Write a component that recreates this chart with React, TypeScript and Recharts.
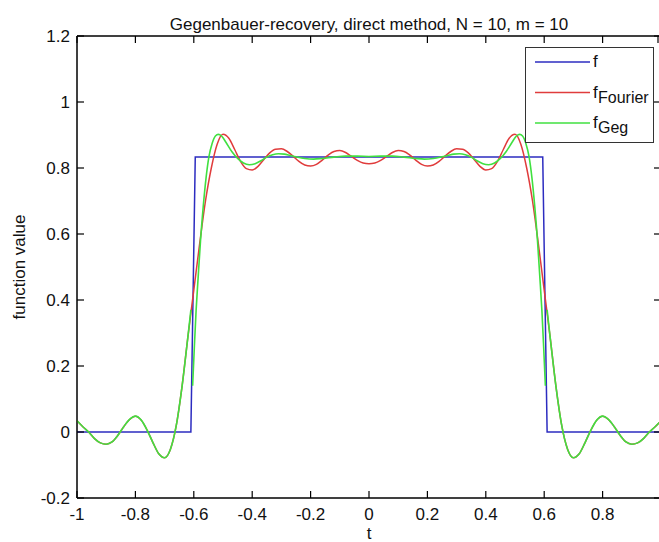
import React from 'react';
import { LineChart, Line, XAxis, YAxis, Legend, ReferenceArea } from 'recharts';

// f: the box function (step at about +-0.6)
const fT = [-1, -0.61, -0.595, 0.595, 0.61, 1];
const fV = [0, 0, 0.8333, 0.8333, 0, 0];

// Fourier partial sum
const fourierT = [
  -1, -0.98, -0.96, -0.94, -0.92, -0.9, -0.88, -0.86, -0.84, -0.82, -0.8, -0.78, -0.76, -0.74, -0.72,
  -0.7, -0.68, -0.66, -0.64, -0.62, -0.6, -0.58, -0.56, -0.54, -0.52, -0.5, -0.48, -0.46, -0.44, -0.42,
  -0.4, -0.38, -0.36, -0.34, -0.32, -0.3, -0.28, -0.26, -0.24, -0.22, -0.2, -0.18, -0.16, -0.14, -0.12,
  -0.1, -0.08, -0.06, -0.04, -0.02, 0, 0.02, 0.04, 0.06, 0.08, 0.1, 0.12, 0.14, 0.16, 0.18,
  0.2, 0.22, 0.24, 0.26, 0.28, 0.3, 0.32, 0.34, 0.36, 0.38, 0.4, 0.42, 0.44, 0.46, 0.48,
  0.5, 0.52, 0.54, 0.56, 0.58, 0.6, 0.62, 0.64, 0.66, 0.68, 0.7, 0.72, 0.74, 0.76, 0.78,
  0.8, 0.82, 0.84, 0.86, 0.88, 0.9, 0.92, 0.94, 0.96, 0.98, 1,
];
const fourierV = [
  0.034, 0.016, 0.0, -0.02, -0.033, -0.037, -0.03, -0.01, 0.016, 0.038, 0.048, 0.036, 0.006, -0.032, -0.066,
  -0.078, -0.052, 0.02, 0.14, 0.29, 0.43, 0.57, 0.7, 0.8, 0.872, 0.902, 0.89, 0.856, 0.82, 0.798,
  0.794, 0.805, 0.826, 0.846, 0.857, 0.858, 0.85, 0.836, 0.82, 0.809, 0.806, 0.811, 0.824, 0.839, 0.85,
  0.853, 0.847, 0.835, 0.823, 0.815, 0.813, 0.815, 0.823, 0.835, 0.847, 0.853, 0.85, 0.839, 0.824, 0.811,
  0.806, 0.809, 0.82, 0.836, 0.85, 0.858, 0.857, 0.846, 0.826, 0.805, 0.794, 0.798, 0.82, 0.856, 0.89,
  0.902, 0.872, 0.8, 0.7, 0.57, 0.43, 0.29, 0.14, 0.02, -0.052, -0.078, -0.066, -0.032, 0.006, 0.036,
  0.048, 0.038, 0.016, -0.01, -0.03, -0.037, -0.033, -0.02, 0.0, 0.016, 0.034,
];

// Gegenbauer reconstruction: left piece, middle piece, right piece (null = break)
const gegT = [
  -1, -0.98, -0.96, -0.94, -0.92, -0.9, -0.88, -0.86, -0.84, -0.82, -0.8, -0.78, -0.76, -0.74, -0.72,
  -0.7, -0.68, -0.66, -0.64, -0.62, -0.61, -0.607,
  -0.604, -0.598, -0.592, -0.585, -0.577, -0.568, -0.558, -0.548, -0.537, -0.526, -0.516, -0.505, -0.49, -0.47,
  -0.45, -0.43, -0.41, -0.39, -0.37, -0.35, -0.33, -0.31, -0.29, -0.27, -0.25, -0.22, -0.19, -0.16, -0.12,
  -0.08, -0.04, 0, 0.04, 0.08, 0.12, 0.16, 0.19, 0.22, 0.25, 0.27, 0.29, 0.31, 0.33, 0.35,
  0.37, 0.39, 0.41, 0.43, 0.45, 0.47, 0.49, 0.505, 0.516, 0.526, 0.537, 0.548, 0.558, 0.568, 0.577,
  0.585, 0.592, 0.598, 0.604,
  0.607, 0.61, 0.62, 0.64, 0.66, 0.68, 0.7, 0.72, 0.74, 0.76, 0.78, 0.8, 0.82, 0.84, 0.86,
  0.88, 0.9, 0.92, 0.94, 0.96, 0.98, 1,
];
const gegV = [
  0.034, 0.016, 0.0, -0.02, -0.033, -0.037, -0.03, -0.01, 0.016, 0.038, 0.048, 0.036, 0.006, -0.032, -0.066,
  -0.078, -0.052, 0.02, 0.14, 0.29, 0.37, null,
  0.14, 0.26, 0.37, 0.47, 0.58, 0.68, 0.77, 0.835, 0.875, 0.897, 0.902, 0.897, 0.878, 0.85,
  0.829, 0.815, 0.81, 0.813, 0.822, 0.833, 0.84, 0.843, 0.842, 0.838, 0.834, 0.829, 0.827, 0.829, 0.833,
  0.836, 0.836, 0.835, 0.836, 0.836, 0.833, 0.829, 0.827, 0.829, 0.834, 0.838, 0.842, 0.843, 0.84, 0.833,
  0.822, 0.813, 0.81, 0.815, 0.829, 0.85, 0.878, 0.897, 0.902, 0.897, 0.875, 0.835, 0.77, 0.68, 0.58,
  0.47, 0.37, 0.26, 0.14,
  null, 0.37, 0.29, 0.14, 0.02, -0.052, -0.078, -0.066, -0.032, 0.006, 0.036, 0.048, 0.038, 0.016, -0.01,
  -0.03, -0.037, -0.033, -0.02, 0.0, 0.016, 0.034,
];

const xTicks = [-1, -0.8, -0.6, -0.4, -0.2, 0, 0.2, 0.4, 0.6, 0.8];
const xTicksAll = [-1, -0.8, -0.6, -0.4, -0.2, 0, 0.2, 0.4, 0.6, 0.8, 1];
const yTicks = [-0.2, 0, 0.2, 0.4, 0.6, 0.8, 1, 1.2];

const fData = fT.map((t, i) => ({ t, v: fV[i] }));
const fourierData = fourierT.map((t, i) => ({ t, v: fourierV[i] }));
const gegData = gegT.map((t, i) => ({ t, v: gegV[i] }));

const BLUE = '#2c2cc0';
const RED = '#e03c3c';
const GREEN = '#40e040';
const FONT = '"Liberation Sans", Arial, Helvetica, sans-serif';
const TICK = 7;

// MATLAB style ticks: short marks pointing into the box
const BottomTick = ({ x, y, payload }: any) => (
  <g>
    <line x1={x} y1={y} x2={x} y2={y - TICK} stroke="#000" strokeWidth={1.2} />
    <text x={x} y={y + 10} dy="0.72em" textAnchor="middle" fontSize={17} fontFamily={FONT} fill="#111">
      {String(payload.value)}
    </text>
  </g>
);
const TopTick = ({ x, y }: any) => <line x1={x} y1={y} x2={x} y2={y + TICK} stroke="#000" strokeWidth={1.2} />;
const LeftTick = ({ x, y, payload }: any) => (
  <g>
    <line x1={x} y1={y} x2={x + TICK} y2={y} stroke="#000" strokeWidth={1.2} />
    <text x={x - 7} y={y} dy="0.36em" textAnchor="end" fontSize={17} fontFamily={FONT} fill="#111">
      {String(payload.value)}
    </text>
  </g>
);
const RightTick = ({ x, y }: any) => <line x1={x} y1={y} x2={x - TICK} y2={y} stroke="#000" strokeWidth={1.2} />;

const legendRows = [
  { key: 'f', color: BLUE, sub: '' },
  { key: 'fourier', color: RED, sub: 'Fourier' },
  { key: 'geg', color: GREEN, sub: 'Geg' },
];

const renderLegend = () => (
  <svg width={129} height={96} style={{ display: 'block' }}>
    <rect x={0.5} y={0.5} width={128} height={95} fill="#fff" stroke="#333" strokeWidth={1} />
    {legendRows.map((r, i) => {
      const ly = 15 + i * 30.5;
      return (
        <g key={r.key}>
          <line x1={10} y1={ly} x2={65} y2={ly} stroke={r.color} strokeWidth={1.5} />
          <text x={68} y={ly + 5} fontSize={17} fontFamily={FONT} fill="#111">f</text>
          {r.sub && (
            <text x={73} y={ly + 10} fontSize={16} fontFamily={FONT} fill="#111">{r.sub}</text>
          )}
        </g>
      );
    })}
  </svg>
);

export default function App() {
  return (
    <div style={{ position: 'absolute', left: 0, top: 0, width: 659, height: 542, overflow: 'hidden', background: '#fff' }}>
      <LineChart width={662} height={542} margin={{ top: 35, right: 0, bottom: 0, left: 0 }}>
        <XAxis
          xAxisId="b"
          type="number"
          dataKey="t"
          domain={[-1, 1]}
          ticks={xTicks}
          height={44}
          stroke="#000"
          tickLine={false}
          tickSize={0}
          tickMargin={0}
          tick={<BottomTick />}
          label={{ value: 't', position: 'insideBottom', offset: 3, fill: '#111', fontSize: 17, fontFamily: FONT }}
        />
        <XAxis
          xAxisId="top"
          orientation="top"
          type="number"
          dataKey="t"
          domain={[-1, 1]}
          ticks={xTicksAll}
          height={1}
          stroke="#000"
          tickLine={false}
          tickSize={0}
          tickMargin={0}
          tick={<TopTick />}
          label={{
            value: 'Gegenbauer-recovery, direct method, N = 10, m = 10',
            position: 'top',
            offset: 5,
            fill: '#111',
            fontSize: 17,
            fontFamily: FONT,
          }}
        />
        <YAxis
          yAxisId="l"
          type="number"
          domain={[-0.2, 1.2]}
          ticks={yTicks}
          width={77}
          stroke="#000"
          tickLine={false}
          tickSize={0}
          tickMargin={0}
          tick={<LeftTick />}
          label={{
            value: 'function value',
            angle: -90,
            position: 'insideLeft',
            offset: 19,
            textAnchor: 'middle',
            fill: '#111',
            fontSize: 17,
            fontFamily: FONT,
          }}
        />
        <YAxis
          yAxisId="r"
          orientation="right"
          type="number"
          domain={[-0.2, 1.2]}
          ticks={yTicks}
          width={1}
          stroke="#000"
          tickLine={false}
          tickSize={0}
          tickMargin={0}
          tick={<RightTick />}
        />
        <Legend
          layout="vertical"
          align="center"
          verticalAlign="middle"
          content={renderLegend}
          wrapperStyle={{ left: 525, top: 47, width: 129, height: 96 }}
        />
        {/* plot box */}
        <ReferenceArea xAxisId="b" yAxisId="l" x1={-1} x2={1} y1={-0.2} y2={1.2} fill="none" stroke="#000" strokeWidth={1} ifOverflow="visible" />
        {/* invisible series so the top and right frame axes get a scale */}
        <Line xAxisId="top" yAxisId="r" data={fData} dataKey="v" stroke="none" legendType="none" dot={false} activeDot={false} isAnimationActive={false} />
        <Line xAxisId="b" yAxisId="l" data={fData} dataKey="v" name="f" type="linear" stroke={BLUE} strokeWidth={1.5} dot={false} isAnimationActive={false} />
        <Line xAxisId="b" yAxisId="l" data={fourierData} dataKey="v" name="fFourier" type="monotone" stroke={RED} strokeWidth={1.5} dot={false} isAnimationActive={false} />
        <Line xAxisId="b" yAxisId="l" data={gegData} dataKey="v" name="fGeg" type="monotone" stroke={GREEN} strokeWidth={1.6} dot={false} isAnimationActive={false} />
      </LineChart>
    </div>
  );
}
